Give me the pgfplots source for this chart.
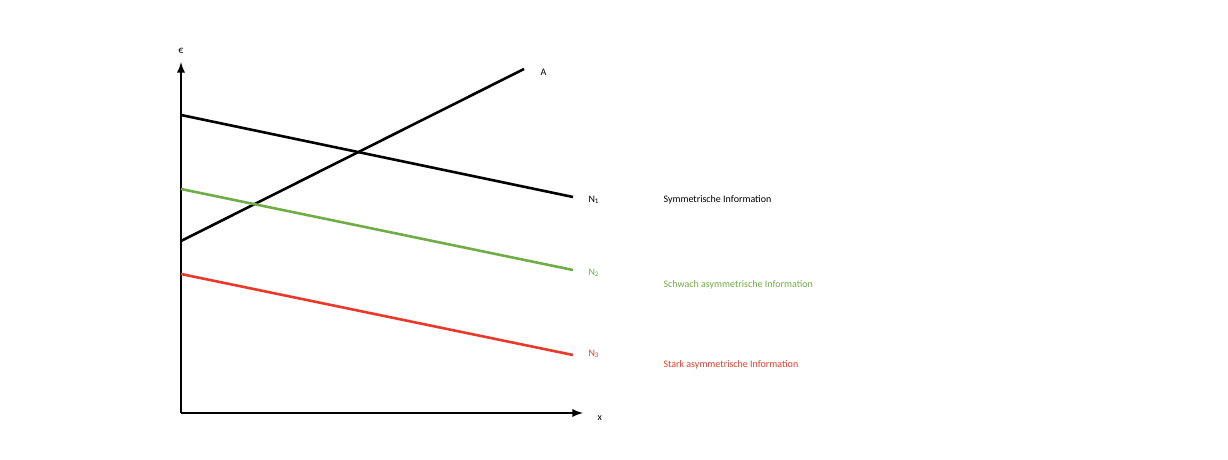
\documentclass[border=0pt]{standalone}
\usepackage{pgfplots}
\pgfplotsset{compat=1.18}
\usepackage{fontspec}
\setmainfont{Carlito}
\definecolor{gr}{HTML}{70AD47}
\definecolor{rd}{HTML}{E8392A}
\begin{document}
\begin{tikzpicture}
\begin{axis}[width=1228pt,height=460pt,scale only axis,axis lines=none,
  xmin=-181,xmax=1047,ymin=-47,ymax=413,clip=false,
  every node/.style={font=\fontsize{22}{26}\selectfont,inner sep=0pt}]
\addplot[draw=none,forget plot] coordinates {(-181,-47)(1047,413)};
\addplot[black,line width=2.6pt,-latex] coordinates {(0,0)(0,351)};
\addplot[black,line width=2.6pt,-latex] coordinates {(0,0)(402,0)};
\addplot[black,line width=2.6pt] coordinates {(0,172)(343,344)};
\addplot[black,line width=2.6pt] coordinates {(0,298)(392,216)};
\addplot[gr,line width=2.6pt] coordinates {(0,224)(392,143)};
\addplot[rd,line width=2.6pt] coordinates {(0,139)(392,58)};
\node[anchor=south] at (axis cs:0,356) {€};
\node[anchor=west] at (axis cs:413,-5) {x};
\node[anchor=west] at (axis cs:356,341) {A};
\node[anchor=west] at (axis cs:404,213) {N\textsubscript{1}};
\node[anchor=west,text=gr] at (axis cs:404,140) {N\textsubscript{2}};
\node[anchor=west,text=rd] at (axis cs:404,59) {N\textsubscript{3}};
\node[anchor=west] at (axis cs:479,213) {Symmetrische Information};
\node[anchor=west,text=gr] at (axis cs:479,128) {Schwach asymmetrische Information};
\node[anchor=west,text=rd] at (axis cs:479,48) {Stark asymmetrische Information};
\end{axis}
\end{tikzpicture}
\end{document}
